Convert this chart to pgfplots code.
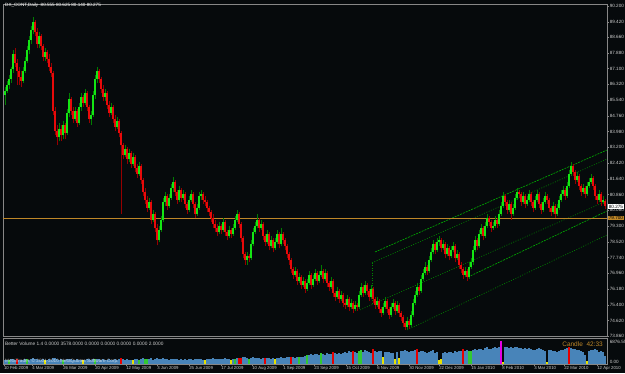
\documentclass[border=0pt]{standalone}
\usepackage{fontspec}
\setmainfont{Liberation Sans}
\usepackage{pgfplots}
\usepackage{pgfplotstable}
\pgfplotsset{compat=1.18}
\definecolor{bg}{RGB}{6,10,12}
\definecolor{upc}{RGB}{20,230,20}
\definecolor{dnc}{RGB}{232,10,10}
\definecolor{upw}{RGB}{0,125,0}
\definecolor{dnw}{RGB}{150,0,0}
\definecolor{chan}{RGB}{0,175,0}
\definecolor{chand}{RGB}{0,135,0}
\definecolor{orl}{RGB}{190,135,40}
\definecolor{volb}{RGB}{72,132,185}
\definecolor{volr}{RGB}{230,0,0}
\definecolor{volg}{RGB}{50,200,50}
\definecolor{voly}{RGB}{230,225,0}
\definecolor{volm}{RGB}{230,0,230}
\definecolor{frm}{RGB}{135,135,135}
\definecolor{lbl}{RGB}{205,205,205}

\pgfplotstableread{
i o h l c v t
0 85.80 86.20 85.30 86.00 1100 0
1 86.00 86.50 85.90 86.30 1200 0
2 86.30 86.80 86.10 86.60 1000 2
3 86.60 87.20 86.40 87.10 1300 0
4 87.10 88.00 86.90 87.80 1400 0
5 87.80 88.10 87.20 87.40 1200 0
6 87.40 87.60 86.30 87.00 1500 1
7 87.00 87.20 86.30 86.70 1100 0
8 86.70 87.00 86.20 86.50 1000 0
9 86.50 87.20 86.40 87.00 1200 0
10 87.00 87.70 86.90 87.50 1300 0
11 87.50 88.20 87.40 88.00 1400 2
12 88.00 88.70 87.80 88.50 1200 0
13 88.50 89.20 88.30 89.00 1500 0
14 89.00 89.66 88.80 89.40 1600 0
15 89.40 89.50 88.70 88.90 1300 0
16 88.90 89.10 88.10 88.30 1400 0
17 88.30 88.90 88.10 88.70 1200 0
18 88.70 88.80 88.00 88.20 1100 0
19 88.20 88.30 87.50 87.70 1300 0
20 87.70 88.10 87.50 87.90 1000 3
21 87.90 88.00 87.40 87.60 1200 0
22 87.60 87.80 87.00 87.20 1300 0
23 87.20 87.40 86.70 86.90 1100 0
24 86.90 87.00 84.80 85.00 1700 0
25 85.00 85.20 83.80 84.00 1600 0
26 84.00 84.30 83.30 83.70 1400 0
27 83.70 84.40 83.50 84.10 1200 0
28 84.10 84.30 83.50 83.80 1300 0
29 83.80 84.50 83.60 84.30 1100 2
30 84.30 84.40 83.60 83.90 1200 0
31 83.90 85.10 83.80 84.90 1400 0
32 84.90 85.90 84.70 85.60 1500 0
33 85.60 85.70 84.80 85.00 1300 0
34 85.00 85.20 84.40 84.60 1200 0
35 84.60 85.20 84.50 85.00 1100 0
36 85.00 85.10 84.20 84.40 1300 0
37 84.40 85.40 84.30 85.20 1200 0
38 85.20 85.90 85.00 85.70 1100 0
39 85.70 85.80 85.20 85.40 1000 3
40 85.40 86.10 85.30 85.90 1200 0
41 85.90 86.00 85.00 85.20 1300 0
42 85.20 85.30 84.40 84.60 1400 0
43 84.60 85.00 84.30 84.80 1100 0
44 84.80 86.00 84.70 85.80 1300 0
45 85.80 86.80 85.60 86.60 1400 2
46 86.60 87.20 86.40 87.00 1500 0
47 87.00 87.10 86.40 86.60 1300 0
48 86.60 86.70 85.90 86.10 1200 0
49 86.10 86.30 85.50 85.70 1300 0
50 85.70 86.10 85.50 85.90 1000 0
51 85.90 86.00 85.10 85.30 1200 0
52 85.30 85.50 84.70 84.90 1300 0
53 84.90 85.40 84.80 85.20 1100 0
54 85.20 85.30 84.40 84.60 1200 0
55 84.60 84.80 84.00 84.20 1400 0
56 84.20 84.70 84.10 84.50 1100 0
57 84.50 84.60 83.70 83.90 1300 0
58 83.90 84.00 79.90 83.30 1800 1
59 83.30 83.40 82.60 82.80 1400 0
60 82.80 83.30 82.70 83.10 1200 0
61 83.10 83.20 82.40 82.60 1300 0
62 82.60 83.10 82.50 82.90 1100 0
63 82.90 83.00 82.20 82.40 1200 0
64 82.40 82.90 82.30 82.70 1000 3
65 82.70 82.80 82.00 82.20 1300 0
66 82.20 82.40 81.70 81.90 1400 0
67 81.90 82.50 81.80 82.30 1200 2
68 82.30 82.40 81.40 81.60 1500 0
69 81.60 81.70 80.80 81.00 1600 0
70 81.00 81.20 80.40 80.60 1400 2
71 80.60 80.80 80.00 80.20 1500 2
72 80.20 80.70 80.10 80.50 1300 0
73 80.50 80.60 79.40 79.60 1600 0
74 79.60 80.10 79.50 79.90 1200 0
75 79.90 80.00 79.00 79.20 1500 0
76 79.20 79.40 78.35 78.60 1700 0
77 78.60 79.30 78.50 79.10 1400 0
78 79.10 79.80 79.00 79.60 1500 0
79 79.60 80.70 79.50 80.50 1600 0
80 80.50 81.00 80.30 80.80 1400 0
81 80.80 80.90 80.10 80.30 1300 0
82 80.30 80.90 80.20 80.70 1200 0
83 80.70 81.40 80.60 81.20 1400 0
84 81.20 81.75 81.00 81.50 1500 0
85 81.50 81.60 80.80 81.00 1300 0
86 81.00 81.10 80.40 80.60 1400 0
87 80.60 81.30 80.50 81.10 1200 0
88 81.10 81.20 80.50 80.70 1300 0
89 80.70 81.10 80.60 80.90 1100 0
90 80.90 81.00 80.20 80.40 1300 0
91 80.40 80.50 79.90 80.10 1200 0
92 80.10 80.80 80.00 80.60 1400 0
93 80.60 81.10 80.50 80.90 1300 0
94 80.90 81.00 80.20 80.40 1200 0
95 80.40 80.50 79.70 79.90 1400 0
96 79.90 80.40 79.80 80.20 1300 0
97 80.20 81.00 80.10 80.80 1500 0
98 80.80 81.10 80.60 80.90 1300 0
99 80.90 81.00 80.40 80.60 1200 0
100 80.60 80.80 80.30 80.50 1100 3
101 80.50 80.60 80.00 80.20 1300 0
102 80.20 80.30 79.80 80.00 1400 0
103 80.00 80.10 79.50 79.70 1500 0
104 79.70 79.90 79.20 79.40 1600 0
105 79.40 79.60 79.00 79.20 1400 0
106 79.20 79.40 78.80 79.00 1500 0
107 79.00 79.50 78.90 79.30 1300 0
108 79.30 79.40 78.90 79.10 1400 0
109 79.10 79.70 79.00 79.50 1500 0
110 79.50 79.60 78.80 79.00 1600 0
111 79.00 79.10 78.60 78.80 1400 0
112 78.80 79.30 78.70 79.10 1300 0
113 79.10 79.20 78.70 78.90 1200 3
114 78.90 79.40 78.80 79.20 1400 0
115 79.20 79.80 79.10 79.60 1500 2
116 79.60 80.10 79.50 79.90 1600 0
117 79.90 80.00 79.20 79.40 1700 1
118 79.40 79.50 78.50 78.70 1800 1
119 78.70 78.80 77.70 77.90 2000 0
120 77.90 78.00 77.40 77.60 1900 0
121 77.60 78.00 77.40 77.80 1700 0
122 77.80 77.90 77.50 77.70 1500 2
123 77.70 78.60 77.60 78.40 1800 0
124 78.40 79.20 78.30 79.00 1900 0
125 79.00 79.50 78.90 79.30 1700 0
126 79.30 79.90 79.20 79.60 1800 0
127 79.60 79.70 79.00 79.20 1600 0
128 79.20 79.60 79.10 79.40 1500 0
129 79.40 79.50 78.60 78.80 1700 0
130 78.80 78.90 78.30 78.50 1800 1
131 78.50 79.10 78.40 78.90 1600 0
132 78.90 79.00 78.10 78.30 1700 0
133 78.30 78.80 78.20 78.60 1500 0
134 78.60 78.70 78.00 78.20 1600 0
135 78.20 78.70 78.10 78.50 1400 3
136 78.50 79.10 78.40 78.90 1700 0
137 78.90 79.00 78.20 78.40 1800 0
138 78.40 79.20 78.30 78.90 1900 0
139 78.90 79.00 78.40 78.60 1700 0
140 78.60 78.70 78.10 78.30 1800 0
141 78.30 78.40 77.70 77.90 1900 0
142 77.90 78.00 77.40 77.60 2000 0
143 77.60 77.70 77.00 77.20 2100 1
144 77.20 77.30 76.70 76.90 2000 0
145 76.90 77.30 76.80 77.10 1800 0
146 77.10 77.20 76.40 76.60 2000 0
147 76.60 77.00 76.50 76.80 1900 2
148 76.80 76.90 76.20 76.40 2100 0
149 76.40 76.80 76.30 76.60 2000 0
150 76.60 76.70 76.00 76.20 2300 0
151 76.20 76.70 76.10 76.50 2600 2
152 76.50 77.10 76.40 76.90 2800 0
153 76.90 77.00 76.20 76.40 2900 0
154 76.40 76.90 76.30 76.70 2700 0
155 76.70 77.20 76.60 77.00 3000 0
156 77.00 77.10 76.40 76.60 3100 0
157 76.60 77.10 76.50 76.90 2800 0
158 76.90 77.40 76.80 77.10 3200 2
159 77.10 77.20 76.50 76.70 3000 0
160 76.70 77.20 76.60 77.00 2700 0
161 77.00 77.10 76.30 76.50 3300 0
162 76.50 76.60 76.10 76.30 3100 0
163 76.30 76.80 76.20 76.60 2900 0
164 76.60 76.70 75.80 76.00 3500 1
165 76.00 76.10 75.60 75.80 3200 0
166 75.80 76.30 75.70 76.10 3000 0
167 76.10 76.20 75.50 75.70 3300 0
168 75.70 76.10 75.60 75.90 3100 0
169 75.90 76.00 75.30 75.50 3400 0
170 75.50 75.70 75.20 75.40 3600 0
171 75.40 75.90 75.30 75.70 3300 0
172 75.70 75.80 75.10 75.30 3800 0
173 75.30 75.70 75.20 75.50 3500 0
174 75.50 75.60 75.00 75.20 3900 1
175 75.20 75.60 75.10 75.40 3700 0
176 75.40 75.50 75.10 75.30 3400 0
177 75.30 76.10 75.20 75.90 4000 2
178 75.90 76.50 75.80 76.30 4100 2
179 76.30 76.40 75.80 76.00 3700 0
180 76.00 76.60 75.90 76.40 4200 0
181 76.40 76.50 75.90 76.10 3800 0
182 76.10 76.20 75.60 75.80 3500 0
183 75.80 76.40 75.70 76.20 3300 0
184 76.20 76.30 75.50 75.70 4400 1
185 75.70 75.80 75.20 75.40 4000 0
186 75.40 75.80 75.30 75.60 3600 0
187 75.60 75.70 75.00 75.20 3800 0
188 75.20 75.30 74.80 75.00 3900 0
189 75.00 75.50 74.90 75.30 2000 3
190 75.30 75.80 75.20 75.60 3700 0
191 75.60 75.70 75.00 75.20 3500 0
192 75.20 75.30 74.70 74.90 3600 0
193 74.90 75.50 74.80 75.30 3400 0
194 75.30 75.70 75.20 75.50 3200 0
195 75.50 75.60 74.90 75.10 1500 3
196 75.10 75.60 75.00 75.40 3500 0
197 75.40 75.50 74.80 75.00 1800 3
198 75.00 75.10 74.60 74.80 3800 0
199 74.80 74.90 74.30 74.50 4000 0
200 74.50 74.60 74.15 74.30 4300 0
201 74.30 74.80 74.20 74.60 3900 0
202 74.60 74.70 74.20 74.40 3600 0
203 74.40 75.10 74.30 74.90 3800 0
204 74.90 75.70 74.80 75.50 4000 0
205 75.50 76.10 75.40 75.90 4100 0
206 75.90 76.50 75.80 76.30 4500 1
207 76.30 76.40 75.90 76.10 3500 0
208 76.10 76.90 76.00 76.70 3800 0
209 76.70 77.20 76.60 77.00 4000 0
210 77.00 77.50 76.90 77.30 3700 0
211 77.30 77.40 76.90 77.10 3400 0
212 77.10 77.80 77.00 77.60 3600 0
213 77.60 78.20 77.50 78.00 3900 0
214 78.00 78.60 77.90 78.40 4100 0
215 78.40 78.50 77.90 78.10 3300 0
216 78.10 78.70 78.00 78.50 3500 0
217 78.50 78.80 78.30 78.60 1200 3
218 78.60 78.70 78.00 78.20 1400 3
219 78.20 78.60 78.10 78.40 3200 0
220 78.40 78.50 77.70 77.90 3600 0
221 77.90 78.40 77.80 78.20 3400 0
222 78.20 78.30 77.60 77.80 3700 0
223 77.80 78.30 77.70 78.10 3500 0
224 78.10 78.50 78.00 78.30 3300 0
225 78.30 78.40 77.50 77.70 3800 0
226 77.70 78.10 77.60 77.90 3600 0
227 77.90 78.00 77.20 77.40 3900 0
228 77.40 77.50 77.00 77.20 4000 0
229 77.20 77.30 76.70 76.90 4600 1
230 76.90 77.30 76.80 77.10 3800 0
231 77.10 77.20 76.60 76.80 4100 0
232 76.80 77.50 76.70 77.30 4000 2
233 77.30 77.70 77.20 77.50 3900 2
234 77.50 78.30 77.40 78.10 4300 0
235 78.10 78.80 78.00 78.60 4500 0
236 78.60 78.70 78.10 78.30 4200 0
237 78.30 79.10 78.20 78.90 4400 0
238 78.90 79.40 78.80 79.20 4600 0
239 79.20 79.30 78.60 78.80 4300 0
240 78.80 79.50 78.70 79.30 4700 0
241 79.30 79.90 79.20 79.70 5000 0
242 79.70 79.80 79.30 79.50 4600 0
243 79.50 79.60 79.00 79.20 4400 0
244 79.20 79.50 79.10 79.30 4800 0
245 79.30 79.80 79.20 79.60 5100 0
246 79.60 79.70 79.20 79.40 4900 0
247 79.40 80.10 79.30 79.90 5200 0
248 79.90 80.50 79.80 80.30 6876 4
249 80.30 81.00 80.20 80.80 600 3
250 80.80 80.90 80.30 80.50 5000 0
251 80.50 80.60 79.90 80.10 5300 0
252 80.10 80.60 80.00 80.40 4900 0
253 80.40 80.50 79.60 79.90 5100 0
254 79.90 80.40 79.80 80.20 4800 0
255 80.20 80.90 80.10 80.70 5000 0
256 80.70 81.20 80.60 81.00 5200 0
257 81.00 81.10 80.70 80.90 4700 0
258 80.90 81.00 80.30 80.50 4900 0
259 80.50 81.00 80.40 80.80 4600 0
260 80.80 80.90 80.20 80.40 4800 0
261 80.40 80.80 80.30 80.60 4400 0
262 80.60 81.10 80.50 80.90 4700 0
263 80.90 81.00 80.30 80.50 4500 0
264 80.50 80.60 80.00 80.20 4300 0
265 80.20 80.80 80.10 80.60 4200 0
266 80.60 81.10 80.50 80.90 4500 0
267 80.90 81.00 80.20 80.40 4700 0
268 80.40 80.50 79.90 80.10 4400 0
269 80.10 80.70 80.00 80.50 4200 0
270 80.50 81.00 80.40 80.80 4000 0
271 80.80 80.90 80.40 80.60 600 3
272 80.60 80.70 80.00 80.20 4300 0
273 80.20 80.30 79.80 80.00 4100 0
274 80.00 80.50 79.90 80.30 3800 0
275 80.30 80.40 79.70 79.90 4000 0
276 79.90 80.40 79.80 80.20 3700 0
277 80.20 80.80 80.10 80.60 3900 0
278 80.60 81.10 80.50 80.90 4100 0
279 80.90 81.30 80.80 81.10 4300 0
280 81.10 81.20 80.60 80.80 4500 0
281 80.80 81.50 80.70 81.30 4700 0
282 81.30 82.10 81.20 81.90 5200 1
283 81.90 82.50 81.80 82.30 4800 0
284 82.30 82.40 81.80 82.00 4600 0
285 82.00 82.10 81.40 81.60 4400 0
286 81.60 82.00 81.50 81.80 4100 0
287 81.80 81.90 81.10 81.30 4300 0
288 81.30 81.40 80.80 81.00 4000 0
289 81.00 81.40 80.90 81.20 3600 0
290 81.20 81.30 80.70 80.90 2500 0
291 80.90 81.50 80.80 81.30 800 3
292 81.30 81.70 81.20 81.50 3800 0
293 81.50 81.90 81.40 81.70 4100 0
294 81.70 81.80 81.10 81.30 4300 0
295 81.30 81.40 80.60 80.80 4500 0
296 80.80 80.90 80.40 80.60 4200 0
297 80.60 81.10 80.50 80.90 3700 0
298 80.90 81.00 80.30 80.50 3900 0
299 80.50 80.80 80.40 80.60 3500 0
300 80.555 80.625 80.14 80.275 2400 0
}\dx

\begin{document}
\begin{tikzpicture}
\fill[bg] (0,0) rectangle (625pt,373pt);
\begin{axis}[
  at={(3pt,37pt)}, anchor=south west, scale only axis,
  width=604pt, height=332pt,
  xmin=-1, xmax=301, ymin=73.86, ymax=90.3,
  axis line style={frm, line width=0.6pt},
  xtick=\empty,
  ytick={73.86,74.62,75.40,76.18,76.96,77.74,78.52,79.30,80.08,80.86,81.64,82.42,83.20,83.98,84.76,85.54,86.32,87.10,87.88,88.66,89.42,90.20},
  yticklabels={73.860,74.620,75.400,76.180,76.960,77.740,78.520,79.300,80.080,80.860,81.640,82.420,83.200,83.980,84.760,85.540,86.320,87.100,87.880,88.660,89.420,90.200},
  ytick pos=right, yticklabel pos=right, tick align=outside,
  major tick length=2pt, tick style={frm, line width=0.5pt},
  yticklabel style={font=\fontsize{4.6}{5}\selectfont, text=lbl, anchor=west, inner sep=0.6pt},
  clip mode=individual, unbounded coords=discard,
]
% channel lines
\addplot[chan, line width=0.6pt, dash pattern=on 2pt off 1pt] coordinates {(185,78.02) (301,83.07)};
\addplot[chand, line width=0.6pt, dash pattern=on 1pt off 1.5pt] coordinates {(183.5,77.48) (301,82.62)};
\addplot[chand, line width=0.6pt, dash pattern=on 1pt off 1.5pt] coordinates {(183.5,77.48) (183.5,75.45)};
\addplot[chand, line width=0.6pt, dash pattern=on 1pt off 1.5pt] coordinates {(177.5,75.15) (301,80.55)};
\addplot[chan, line width=0.6pt, dash pattern=on 2pt off 1pt] coordinates {(231.5,76.78) (301,80.05)};
\addplot[chand, line width=0.6pt, dash pattern=on 1pt off 1.5pt] coordinates {(201,74.16) (301,78.86)};
% horizontal line
\addplot[orl, line width=0.7pt] coordinates {(-1,79.70) (301,79.70)};
% wicks
\addplot[draw=none, mark=none, error bars/.cd, y dir=plus, y explicit, error mark=none,
  error bar style={draw=upw, line width=0.6pt}]
  table[x expr={\thisrow{c}>=\thisrow{o} ? \thisrow{i} : nan}, y=l, y error expr={\thisrow{h}-\thisrow{l}}] {\dx};
\addplot[draw=none, mark=none, error bars/.cd, y dir=plus, y explicit, error mark=none,
  error bar style={draw=dnw, line width=0.6pt}]
  table[x expr={\thisrow{c}<\thisrow{o} ? \thisrow{i} : nan}, y=l, y error expr={\thisrow{h}-\thisrow{l}}] {\dx};
% bodies
\addplot[draw=none, mark=none, error bars/.cd, y dir=plus, y explicit, error mark=none,
  error bar style={draw=upc, line width=1.4pt}]
  table[x expr={\thisrow{c}>=\thisrow{o} ? \thisrow{i} : nan}, y=o, y error expr={\thisrow{c}-\thisrow{o}}] {\dx};
\addplot[draw=none, mark=none, error bars/.cd, y dir=plus, y explicit, error mark=none,
  error bar style={draw=dnc, line width=1.4pt}]
  table[x expr={\thisrow{c}<\thisrow{o} ? \thisrow{i} : nan}, y=c, y error expr={\thisrow{o}-\thisrow{c}}] {\dx};
\end{axis}

\begin{axis}[
  at={(3pt,9pt)}, anchor=south west, scale only axis,
  width=604pt, height=26pt,
  xmin=-1, xmax=301, ymin=-156, ymax=7956,
  axis line style={frm, line width=0.6pt},
  ytick=\empty,
  xtick={-0.6,13.5,29,45,60.5,76,92,108,123.5,139,154.5,170.5,186,202,217,233,248.5,264.5,279.5,296},
  xticklabels={10 Feb 2009,4 Mar 2009,26 Mar 2009,20 Apr 2009,12 May 2009,3 Jun 2009,25 Jun 2009,17 Jul 2009,10 Aug 2009,1 Sep 2009,23 Sep 2009,15 Oct 2009,6 Nov 2009,30 Nov 2009,22 Dec 2009,15 Jan 2010,8 Feb 2010,3 Mar 2010,22 Mar 2010,12 Apr 2010},
  xtick pos=bottom, tick align=outside,
  major tick length=2pt, tick style={frm, line width=0.5pt},
  xticklabel style={font=\fontsize{4.3}{5}\selectfont, text=lbl, anchor=north west, inner sep=0.6pt, xshift=-0.5pt},
  clip mode=individual, unbounded coords=discard,
]
\addplot[ycomb, volb, line width=1.4pt] table[x expr={\thisrow{t}==0 ? \thisrow{i} : nan}, y=v] {\dx};
\addplot[ycomb, volr, line width=1.4pt] table[x expr={\thisrow{t}==1 ? \thisrow{i} : nan}, y=v] {\dx};
\addplot[ycomb, volg, line width=1.4pt] table[x expr={\thisrow{t}==2 ? \thisrow{i} : nan}, y=v] {\dx};
\addplot[ycomb, voly, line width=1.4pt] table[x expr={\thisrow{t}==3 ? \thisrow{i} : nan}, y=v] {\dx};
\addplot[ycomb, volm, line width=1.4pt] table[x expr={\thisrow{t}==4 ? \thisrow{i} : nan}, y=v] {\dx};
\end{axis}

% texts
\node[anchor=west, text=white, font=\fontsize{4.6}{5}\selectfont, inner sep=0pt] at (5pt,368pt) {DX\_CONT,Daily\ \ 80.555 80.625 80.140 80.275};
\node[anchor=west, fill=white, text=black, font=\fontsize{4.6}{5}\selectfont, inner sep=0.7pt] at (608pt,166.5pt) {80.275};
\node[anchor=west, fill=orl, text=black, font=\fontsize{4.6}{5}\selectfont, inner sep=0.7pt] at (608pt,154.9pt) {79.700};
\node[anchor=west, text=lbl, font=\fontsize{4.6}{5}\selectfont, inner sep=0.6pt] at (609pt,31pt) {6876.55};
\node[anchor=west, text=lbl, font=\fontsize{4.6}{5}\selectfont, inner sep=0.6pt] at (609pt,11pt) {0.00};
\node[anchor=west, text=lbl, font=\fontsize{4.8}{5}\selectfont, inner sep=0pt] at (5pt,29pt) {Better Volume 1.4 0.0000 3578.0000 0.0000 0.0000 0.0000 0.0000 2.0000};
\node[anchor=east, text=orl, font=\fontsize{6.5}{7}\selectfont, inner sep=0pt] at (603pt,29pt) {Candle\ \ 42:33};
\node[anchor=west, text=white, opacity=0.7, font=\fontsize{4.7}{5}\selectfont, inner sep=0pt] at (5pt,12pt) {MetaTrader, © 2001-2010 MetaQuotes Software Corp.};
\pgfresetboundingbox
\path (0,0) rectangle (625pt,373pt);
\end{tikzpicture}
\end{document}
